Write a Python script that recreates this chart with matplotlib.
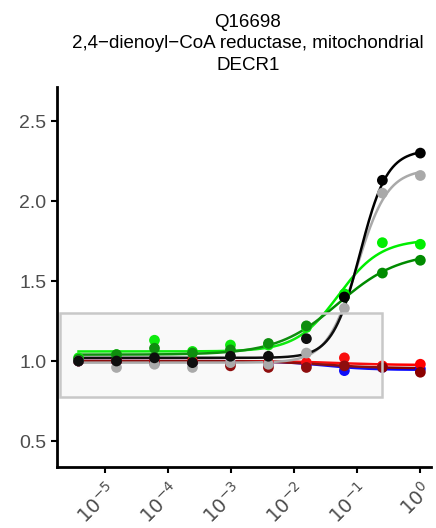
import numpy as np
import matplotlib
matplotlib.use("Agg")
import matplotlib.pyplot as plt
from matplotlib.patches import Rectangle

plt.rcParams['font.family'] = ['Liberation Sans', 'DejaVu Sans']

# drug concentrations (4-fold dilution)
conc = [3.815e-6, 1.526e-5, 6.104e-5, 2.441e-4, 9.766e-4, 3.906e-3, 0.015625, 0.0625, 0.25, 1.0]

colors = ['blue', 'red', '#8B0000', '#00EE00', '#008B00', '#A9A9A9', 'black']

# relative signal per series
blue = [1.00, 1.00, 0.99, 0.99, 0.99, 0.98, 0.98, 0.94, 0.96, 0.95]
red = [1.00, 1.00, 1.00, 1.00, 0.99, 0.99, 0.99, 1.02, 0.97, 0.98]
darkred = [1.00, 1.00, 0.99, 0.99, 0.97, 0.96, 0.96, 0.97, 0.96, 0.93]
lime = [1.02, 1.04, 1.13, 1.06, 1.10, 1.10, 1.21, 1.42, 1.74, 1.73]
darkgreen = [1.01, 1.04, 1.08, 1.05, 1.07, 1.11, 1.22, 1.40, 1.55, 1.63]
gray = [1.00, 0.96, 0.98, 0.96, 0.99, 0.98, 1.05, 1.33, 2.05, 2.16]
black = [1.00, 1.00, 1.02, 0.99, 1.03, 1.03, 1.14, 1.40, 2.13, 2.30]

# fitted log-logistic curves: bottom, top, ec50, slope
fits = [
    (1.00, 0.945, 0.03, 1.2),
    (1.00, 0.975, 0.05, 1.0),
    (1.00, 0.955, 0.03, 1.0),
    (1.06, 1.76, 0.05, 1.3),
    (1.04, 1.68, 0.05, 0.9),
    (0.99, 2.20, 0.10, 1.8),
    (1.02, 2.32, 0.11, 2.0),
]

series = [blue, red, darkred, lime, darkgreen, gray, black]

title = "Q16698\n2,4\u2212dienoyl\u2212CoA reductase, mitochondrial\nDECR1"

fig = plt.figure(figsize=(4.36, 5.28), dpi=100)
ax = fig.add_axes([0.1307, 0.1155, 0.858, 0.7195])

xs = np.geomspace(conc[0], conc[-1], 300)
for vals, fit, c in zip(series, fits, colors):
    b, t, ec, h = fit
    ax.plot(xs, b + (t - b) / (1 + (ec / xs) ** h), color=c, lw=1.8, zorder=2)
    ax.scatter(conc, vals, s=60, color=c, edgecolors='none', zorder=3)

ax.add_patch(Rectangle((10 ** -5.72, 0.775), 0.25 - 10 ** -5.72, 1.30 - 0.775, facecolor='#BEBEBE',
                       alpha=0.08, edgecolor='none', zorder=4))
ax.add_patch(Rectangle((10 ** -5.72, 0.775), 0.25 - 10 ** -5.72, 1.30 - 0.775, facecolor='none',
                       edgecolor='#C8C8C8', lw=1.8, zorder=4))

ax.set_xscale('log')
ax.set_xlim(10 ** -5.76, 10 ** 0.17)
ax.set_ylim(0.3375, 2.7125)
ax.set_xticks([1e-5, 1e-4, 1e-3, 1e-2, 1e-1, 1e0])
ax.set_xticklabels([r'$10^{-5}$', r'$10^{-4}$', r'$10^{-3}$', r'$10^{-2}$', r'$10^{-1}$', r'$10^{0}$'],
                   rotation=45, ha='right', va='top', rotation_mode='anchor')
ax.minorticks_off()
ax.set_yticks([0.5, 1.0, 1.5, 2.0, 2.5])
ax.set_yticklabels(['0.5', '1.0', '1.5', '2.0', '2.5'])
ax.tick_params(axis='both', colors='black', width=1.5, length=4, labelsize=14, labelcolor='#4D4D4D')
ax.tick_params(axis='x', pad=5)
for side in ['top', 'right']:
    ax.spines[side].set_visible(False)
for side in ['left', 'bottom']:
    ax.spines[side].set_linewidth(2)

fig.text(0.5682, 0.973, title, ha='center', va='top', fontsize=13.5, linespacing=1.32)

fig.savefig('out.png', dpi=100)
